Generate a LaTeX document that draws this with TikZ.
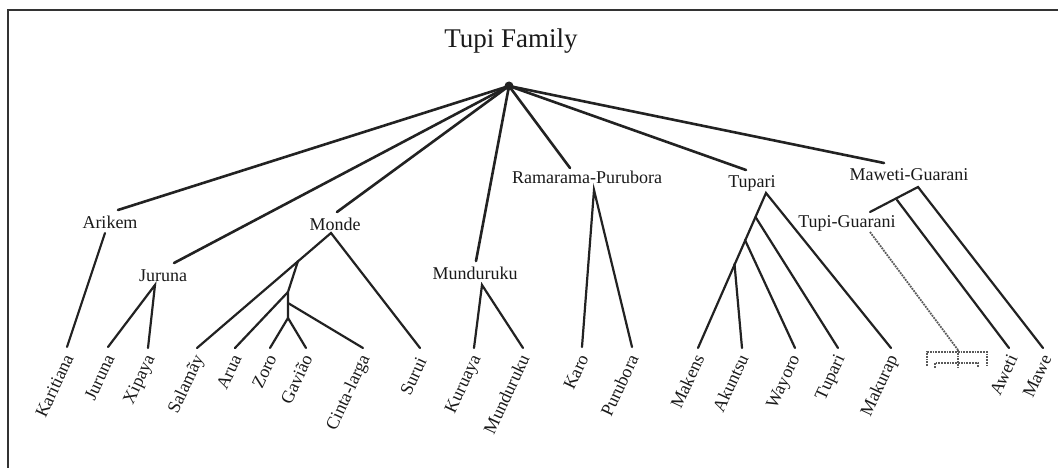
\documentclass[tikz,border=0pt]{standalone}
\usepackage{fontspec}
\setmainfont{Liberation Serif}
\definecolor{linec}{HTML}{222222}
\definecolor{textc}{HTML}{1A1A1A}
\definecolor{framec}{HTML}{333333}
\definecolor{dotc}{HTML}{5A5A5A}
\begin{document}
\begin{tikzpicture}[x=1pt,y=-1pt,
  edge/.style={draw=linec, line width=2.2pt, line cap=round},
  rootedge/.style={draw=linec, line width=2.6pt, line cap=round},
  frameline/.style={draw=framec, line width=1.3pt},
  dotline/.style={draw=dotc, line width=1.8pt, densely dotted},
  lab/.style={font=\fontsize{18}{20}\selectfont, text=textc, inner sep=0pt, anchor=base},
  leaf/.style={font=\fontsize{18}{20}\selectfont, text=textc, inner sep=0pt, anchor=base east, rotate=65},
  titlelab/.style={font=\fontsize{27}{30}\selectfont, text=textc, inner sep=0pt, anchor=base},
  rootdot/.style={circle, fill=linec, inner sep=0pt, minimum size=9pt}]
\useasboundingbox (0,0) rectangle (1058,468);
\fill[white] (0,0) rectangle (1058,468);
\draw[frameline] (1058,10) -- (8,10) -- (8,468);

\node[titlelab] (title) at (511,48) {Tupi Family};
\node[rootdot] (root) at (509,86) {};

% group tops
\coordinate (arikT) at (118,210);
\coordinate (jurT) at (174,263);
\coordinate (mondeT) at (337,212);
\coordinate (mundT) at (476,261);
\coordinate (ramT) at (570,168);
\coordinate (tupT) at (746,170);
\coordinate (mawT) at (884,163);

% group labels
\node[lab] (arikem) at (110,228) {Arikem};
\node[lab] (juruna) at (163,281) {Juruna};
\node[lab] (monde) at (335,230) {Monde};
\node[lab] (mund) at (475,279) {Munduruku};
\node[lab] (ram) at (587,183) {Ramarama-Purubora};
\node[lab] (tupari) at (752,188) {Tupari};
\node[lab] (maweti) at (909,181) {Maweti-Guarani};
\node[lab] (tg) at (847,227) {Tupi-Guarani};

% internal points
\coordinate (arikB) at (105,233);
\coordinate (jurA) at (155,285);
\coordinate (mondeA) at (331,233);
\coordinate (mb1) at (298,261);
\coordinate (mb2) at (288,292);
\coordinate (mb2c) at (288,303);
\coordinate (mb3) at (288,318);
\coordinate (mundA) at (482,285);
\coordinate (ramA) at (594,190);
\coordinate (tupA) at (766,193);
\coordinate (t1) at (755.5,217);
\coordinate (t2) at (745,240);
\coordinate (t3) at (734.5,264);
\coordinate (mawA) at (918,187);
\coordinate (m1) at (897,200);
\coordinate (tgT) at (870,212);
\coordinate (tgB) at (870,232);
\coordinate (tgE) at (958,350);

% leaf ends
\coordinate (e1) at (67,347);
\coordinate (e2) at (108,347);
\coordinate (e3) at (148,348);
\coordinate (e4) at (197,348);
\coordinate (e5) at (235,348);
\coordinate (e6) at (270,348);
\coordinate (e7) at (306,348);
\coordinate (e8) at (363,348);
\coordinate (e9) at (420,348);
\coordinate (e10) at (474,348);
\coordinate (e11) at (523,348);
\coordinate (e12) at (582,347);
\coordinate (e13) at (632,347);
\coordinate (e14) at (698,348);
\coordinate (e15) at (742,348);
\coordinate (e16) at (795,348);
\coordinate (e17) at (838,348);
\coordinate (e18) at (891,348);
\coordinate (e19) at (1009,348);
\coordinate (e20) at (1043,348);

% root edges
\foreach \t in {arikT,jurT,mondeT,mundT,ramT,tupT,mawT}
  \draw[rootedge] (root.center) -- (\t);

% subtrees
\draw[edge] (arikB) -- (e1);
\draw[edge] (e2) -- (jurA) -- (e3);
\draw[edge] (e4) -- (mondeA) -- (e9);
\draw[edge] (mb1) -- (mb2) -- (mb3);
\draw[edge] (mb2) -- (e5);
\draw[edge] (mb2c) -- (e8);
\draw[edge] (e6) -- (mb3) -- (e7);
\draw[edge] (e10) -- (mundA) -- (e11);
\draw[edge] (e12) -- (ramA) -- (e13);
\draw[edge] (e14) -- (tupA) -- (e18);
\draw[edge] (t1) -- (e17);
\draw[edge] (t2) -- (e16);
\draw[edge] (t3) -- (e15);
\draw[edge] (tgT) -- (mawA) -- (e20);
\draw[edge] (m1) -- (e19);
\draw[dotline] (tgB) -- (tgE);

% dotted mini tree
\coordinate (d1) at (927,366);
\coordinate (d2) at (927,352);
\coordinate (d3) at (987,352);
\coordinate (d4) at (987,365);
\coordinate (d5) at (935,368);
\coordinate (d6) at (935,363);
\coordinate (d7) at (978,363);
\coordinate (d8) at (978,368);
\coordinate (d9) at (958,368);
\draw[dotline, line width=1.5pt] (d1) -- (d2) -- (d3) -- (d4);
\draw[dotline, line width=1.5pt] (d5) -- (d6) -- (d7) -- (d8);
\draw[dotline, line width=1.5pt] (tgE) -- (d9);

% leaf labels
\node[leaf] (l1) at (74,358) {Karitiana};
\node[leaf] (l2) at (115,358) {Juruna};
\node[leaf] (l3) at (155,358) {Xipaya};
\node[leaf] (l4) at (204,358) {Salamãy};
\node[leaf] (l5) at (242,358) {Arua};
\node[leaf] (l6) at (277,358) {Zoro};
\node[leaf] (l7) at (313,358) {Gavião};
\node[leaf] (l8) at (370,358) {Cinta-larga};
\node[leaf] (l9) at (427,361) {Surui};
\node[leaf] (l10) at (481,358) {Kuruaya};
\node[leaf] (l11) at (530,358) {Munduruku};
\node[leaf] (l12) at (589,358) {Karo};
\node[leaf] (l13) at (639,358) {Purubora};
\node[leaf] (l14) at (705,358) {Makens};
\node[leaf] (l15) at (749,358) {Akuntsu};
\node[leaf] (l16) at (800,358) {Wayoro};
\node[leaf] (l17) at (845,358) {Tupari};
\node[leaf] (l18) at (898,358) {Makurap};
\node[leaf] (l19) at (1018,358) {Aweti};
\node[leaf] (l20) at (1052,358) {Mawe};
\end{tikzpicture}
\end{document}
